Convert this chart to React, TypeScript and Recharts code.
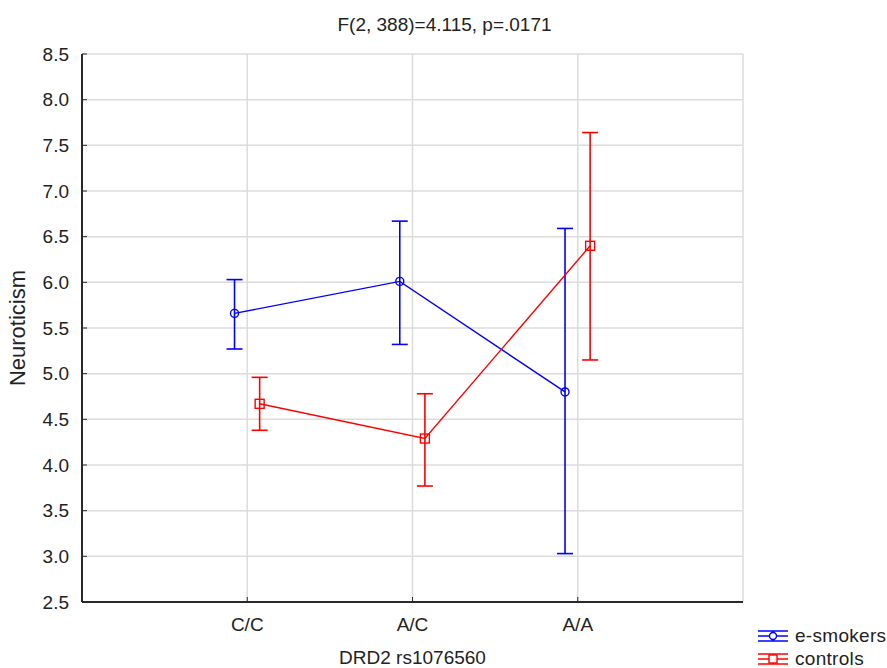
import React from "react";
import {
  CartesianGrid,
  ComposedChart,
  ErrorBar,
  Legend,
  Line,
  XAxis,
  YAxis,
} from "recharts";

const categories = ["C/C", "A/C", "A/A"];

const smokersMean = [5.66, 6.01, 4.8];
const smokersLow = [5.27, 5.32, 3.03];
const smokersHigh = [6.03, 6.67, 6.59];

const controlsMean = [4.67, 4.29, 6.4];
const controlsLow = [4.38, 3.77, 5.15];
const controlsHigh = [4.96, 4.78, 7.64];

const yTicks = [2.5, 3, 3.5, 4, 4.5, 5, 5.5, 6, 6.5, 7, 7.5, 8, 8.5];

const BLUE = "#0000ff";
const RED = "#ff0000";
const TEXT = "#222";
const FRAME = "#2a2a2a";
const FONT = '"Liberation Sans", Arial, sans-serif';

// groups are drawn a little left / right of the category line
const build = (mean: number[], low: number[], high: number[], shift: number) =>
  mean.map((m, i) => ({
    x: i + 1 + shift,
    y: m,
    err: [m - low[i], high[i] - m],
  }));

const smokers = build(smokersMean, smokersLow, smokersHigh, -0.077);
const controls = build(controlsMean, controlsLow, controlsHigh, 0.075);

const legendItems = [
  { name: "e-smokers", color: BLUE, marker: "circle" },
  { name: "controls", color: RED, marker: "square" },
];

function CircleDot(p: any) {
  if (p.cx == null) return null;
  return <circle cx={p.cx} cy={p.cy} r={4} fill="none" stroke={BLUE} strokeWidth={1.4} />;
}

function SquareDot(p: any) {
  if (p.cx == null) return null;
  return (
    <rect x={p.cx - 4.5} y={p.cy - 4.5} width={9} height={9} fill="none" stroke={RED} strokeWidth={1.4} />
  );
}

function YLabel(props: any) {
  const { x, y, height } = props.viewBox;
  const cx = x + 17;
  const cy = y + height / 2;
  return (
    <text
      x={cx}
      y={cy}
      transform={`rotate(-90 ${cx} ${cy})`}
      textAnchor="middle"
      dominantBaseline="central"
      fontSize={22}
      fill={TEXT}
      fontFamily={FONT}
    >
      Neuroticism
    </text>
  );
}

function LegendBox() {
  return (
    <div style={{ fontFamily: FONT, fontSize: 19, color: TEXT }}>
      {legendItems.map((it) => (
        <div key={it.name} style={{ display: "flex", alignItems: "center", height: 23 }}>
          <svg width={32} height={14} style={{ marginRight: 6 }}>
            <line x1={1} x2={31} y1={2} y2={2} stroke={it.color} strokeWidth={1.5} />
            <line x1={1} x2={31} y1={7} y2={7} stroke={it.color} strokeWidth={1.5} />
            <line x1={1} x2={31} y1={12} y2={12} stroke={it.color} strokeWidth={1.5} />
            <line x1={16} x2={16} y1={2} y2={12} stroke={it.color} strokeWidth={1.5} />
            {it.marker === "circle" ? (
              <circle cx={16} cy={7} r={3.5} fill="#fff" stroke={it.color} strokeWidth={1.4} />
            ) : (
              <rect x={12} y={3} width={8} height={8} fill="#fff" stroke={it.color} strokeWidth={1.4} />
            )}
          </svg>
          <span style={{ letterSpacing: 0.3 }}>{it.name}</span>
        </div>
      ))}
    </div>
  );
}

export default function App() {
  return (
    <div
      style={{
        position: "absolute",
        left: 0,
        top: 0,
        width: 887,
        height: 668,
        background: "#fff",
        fontFamily: FONT,
      }}
    >
      <div
        style={{
          position: "absolute",
          top: 15,
          left: 0,
          width: 889,
          textAlign: "center",
          fontSize: 19,
          lineHeight: "19px",
          color: TEXT,
        }}
      >
        F(2, 388)=4.115, p=.0171
      </div>
      <ComposedChart
        width={887}
        height={668}
        margin={{ top: 54, right: 144, bottom: 0, left: 0 }}
      >
        <CartesianGrid stroke="#dcdcdc" strokeWidth={1.5} />
        <XAxis
          type="number"
          dataKey="x"
          domain={[0, 4]}
          ticks={[1, 2, 3]}
          allowDataOverflow
          tickFormatter={(v: number) => categories[Math.round(v) - 1]}
          height={66}
          axisLine={{ stroke: FRAME, strokeWidth: 2 }}
          tickLine={{ stroke: FRAME }}
          tickSize={-5}
          tickMargin={21}
          tick={{ fill: TEXT, fontSize: 19, fontFamily: FONT }}
          label={{
            value: "DRD2 rs1076560",
            position: "insideBottom",
            offset: 4,
            fill: TEXT,
            fontSize: 19,
            fontFamily: FONT,
          }}
        />
        <XAxis
          xAxisId="top"
          orientation="top"
          type="number"
          domain={[0, 4]}
          ticks={[1, 2, 3]}
          allowDataOverflow
          height={0}
          axisLine={{ stroke: FRAME, strokeWidth: 2 }}
          tickLine={{ stroke: FRAME }}
          tickSize={-5}
          tick={false}
        />
        <YAxis
          type="number"
          domain={[2.5, 8.5]}
          ticks={yTicks}
          allowDataOverflow
          width={82}
          interval={0}
          tickFormatter={(v: number) => v.toFixed(1)}
          axisLine={{ stroke: FRAME, strokeWidth: 2 }}
          tickLine={{ stroke: FRAME }}
          tickSize={-5}
          tickMargin={18}
          tick={{ fill: TEXT, fontSize: 19, fontFamily: FONT }}
          label={{ content: YLabel }}
        />
        <YAxis
          yAxisId="right"
          orientation="right"
          type="number"
          domain={[2.5, 8.5]}
          ticks={yTicks}
          allowDataOverflow
          width={0}
          interval={0}
          axisLine={{ stroke: FRAME, strokeWidth: 2 }}
          tickLine={{ stroke: FRAME }}
          tickSize={-5}
          tick={false}
        />
        <Line
          data={smokers}
          dataKey="y"
          name="e-smokers"
          stroke={BLUE}
          strokeWidth={1.4}
          dot={<CircleDot />}
          activeDot={false}
          isAnimationActive={false}
        >
          <ErrorBar dataKey="err" direction="y" width={8} stroke={BLUE} strokeWidth={1.6} isAnimationActive={false} />
        </Line>
        <Line
          data={controls}
          dataKey="y"
          name="controls"
          stroke={RED}
          strokeWidth={1.4}
          dot={<SquareDot />}
          activeDot={false}
          isAnimationActive={false}
        >
          <ErrorBar dataKey="err" direction="y" width={8} stroke={RED} strokeWidth={1.6} isAnimationActive={false} />
        </Line>
        <Legend
          layout="horizontal"
          verticalAlign="middle"
          align="center"
          content={<LegendBox />}
          wrapperStyle={{ position: "absolute", left: 757, top: 624, width: 130 }}
        />
      </ComposedChart>
    </div>
  );
}
